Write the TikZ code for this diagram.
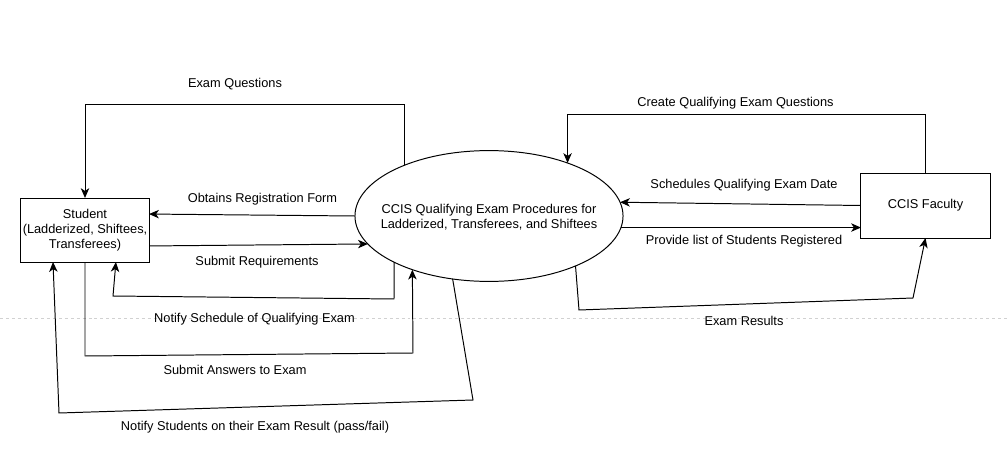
\documentclass[tikz,border=0pt]{standalone}
\usepackage{fontspec}
\setmainfont{Liberation Sans}
\usetikzlibrary{arrows.meta,shapes.geometric}

\begin{document}
\begin{tikzpicture}[
  x=0.025cm, y=-0.025cm,
  font=\fontsize{9.1}{10.8}\selectfont,
  entity/.style={draw, line width=0.7pt, align=center, minimum width=3.2cm, minimum height=1.6cm, inner sep=1pt, outer sep=0pt},
  process/.style={draw, ellipse, line width=0.7pt, minimum width=6.7cm, minimum height=3.27cm, inner sep=0pt, outer sep=0pt},
  flow/.style={-{Stealth[length=7pt, width=6pt, inset=2pt]}, line width=0.7pt},
  lbl/.style={inner sep=0pt, yshift=-1pt}
]
\useasboundingbox (0,0) rectangle (1008,467);
\draw[black!18, dash pattern=on 2.1pt off 2.1pt, line width=0.7pt] (0,318) -- (1008,318);

\node[entity] (student) at (85,230) {Student\\(Ladderized, Shiftees,\\Transferees)};
\node[process] (proc) at (489,216) {};
\node[align=center, inner sep=0pt, yshift=-1pt] (proctext) at (proc) {CCIS Qualifying Exam Procedures for\\Ladderized, Transferees, and Shiftees};
\node[entity, minimum width=3.225cm, minimum height=1.625cm] (faculty) at (925.5,205.5) {CCIS Faculty};

% student side
\draw[flow] (proc.149) |- (student.north |- 0,104) -- (student.north);
\draw[flow] (proc.west) -- (student.14);
\draw[flow] (student.-14) -- (proc.193);
\draw[flow] (proc.206) -- (394,299) -- (113,296) -- (student.-46);
\draw[flow] (student.south) -- (85,356) -- (413,353) -- (proc.215);
\draw[flow] (proc.240) -- (473,400) -- (59,413) -- (student.-135);

% faculty side
\draw[flow] (faculty.north) |- (proc.34 |- 0,114) -- (proc.34);
\draw[flow] (faculty.west) -- (proc.6);
\draw[flow] (proc.-5) -- (proc.-5 -| faculty.west);
\draw[flow] (proc.-30) -- (579,310) -- (913,298) -- (faculty.south);

\node[lbl] (t1) at (235,83) {Exam Questions};
\node[lbl] (t2) at (262.5,198) {Obtains Registration Form};
\node[lbl] (t3) at (257,261) {Submit Requirements};
\node[lbl] (t4) at (254.5,317.5) {Notify Schedule of Qualifying Exam};
\node[lbl] (t5) at (235,369) {Submit Answers to Exam};
\node[lbl] (t6) at (255,425.5) {Notify Students on their Exam Result (pass/fail)};
\node[lbl] (t7) at (735.5,101.5) {Create Qualifying Exam Questions};
\node[lbl] (t8) at (744,183.5) {Schedules Qualifying Exam Date};
\node[lbl] (t9) at (744,239.5) {Provide list of Students Registered};
\node[lbl] (t10) at (744,320) {Exam Results};
\end{tikzpicture}
\end{document}
